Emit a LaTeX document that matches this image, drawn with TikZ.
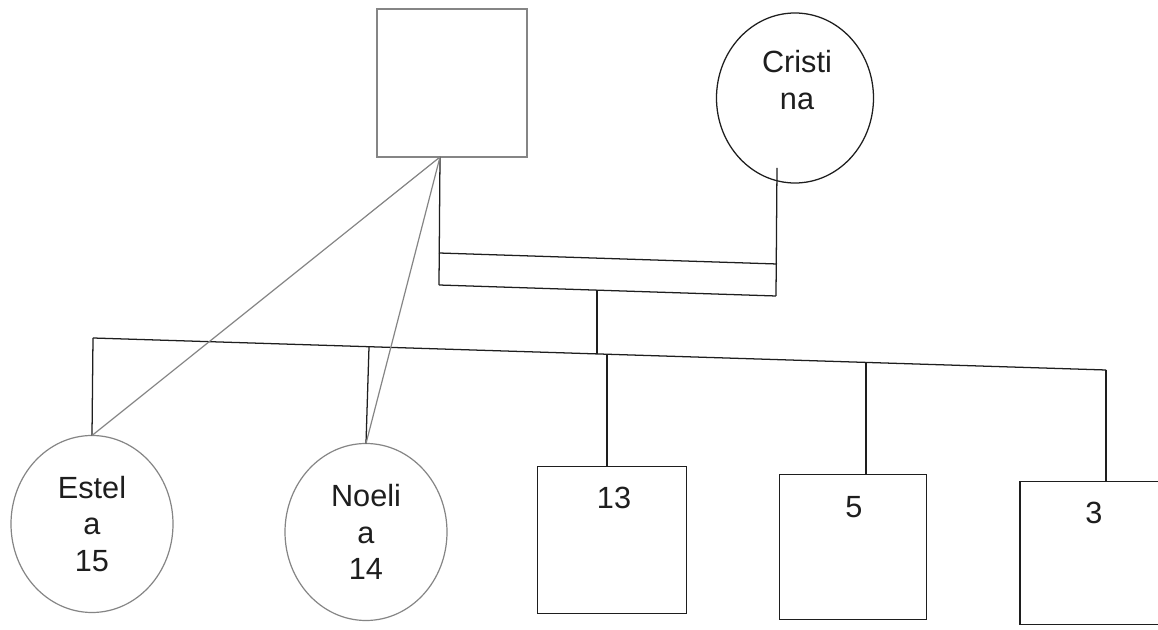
\documentclass[tikz,border=0pt]{standalone}
\usepackage{fontspec}
\setmainfont{Liberation Sans}
\usetikzlibrary{shapes.geometric}
\definecolor{inkgray}{HTML}{858585}
\definecolor{inkblack}{HTML}{1E1E1E}
\tikzset{
  blk/.style={draw=inkblack, line width=0.95pt},
  gry/.style={draw=inkgray, line width=0.9pt},
  txt/.style={font=\fontsize{23}{27.5}\selectfont, align=center, inner sep=0pt, text=inkblack},
  sqbox/.style={rectangle, inner sep=0pt, outer sep=0pt},
  ellbox/.style={ellipse, inner sep=0pt, outer sep=0pt},
}
\begin{document}
\begin{tikzpicture}[x=0.75pt, y=-0.75pt]
\useasboundingbox (0,0) rectangle (1158,630);
\clip (0,0) rectangle (1158,630);
\fill[white] (0,0) rectangle (1158,630);

% parents
\node[sqbox, gry, minimum width=112.5pt, minimum height=111pt] (father) at (452,83) {};
\node[ellbox, blk, minimum width=117.75pt, minimum height=127.5pt] (cristina) at (795,98) {};
\node[txt] (cristinaT) at (797,80) {Cristi\\na};

% children
\node[ellbox, gry, minimum width=121.5pt, minimum height=132.75pt, txt] (estela) at (92,524) {Estel\\a\\15};
\node[ellbox, gry, minimum width=121.5pt, minimum height=132.75pt, txt] (noeli) at (366,532) {Noeli\\a\\14};
\node[sqbox, blk, minimum width=111.75pt, minimum height=110.25pt] (b13) at (612,540) {};
\node[sqbox, blk, minimum width=110.25pt, minimum height=108.75pt] (b5) at (853,547) {};
\node[sqbox, blk, minimum width=112.5pt, minimum height=107.25pt] (b3) at (1095,553) {};
\node[txt] (t13) at (614,498) {13};
\node[txt] (t5) at (854,507) {5};
\node[txt] (t3) at (1094,513) {3};

% junction coordinates
\coordinate (fb) at (440,157);
\coordinate (cb) at (777,168);
\coordinate (m1) at (439,253);
\coordinate (m2) at (777,264);
\coordinate (m3) at (439,285);
\coordinate (m4) at (776,296);
\coordinate (d1) at (597,290);
\coordinate (d2) at (597,354);
\coordinate (s0) at (93,338);
\coordinate (sN) at (369,347);
\coordinate (s13) at (607,355);
\coordinate (s5) at (866,363);
\coordinate (s3) at (1106,370);

% marriage
\draw[blk] (fb) -- (m3);
\draw[blk] (cb) -- (m4);
\draw[blk] (m1) -- (m2);
\draw[blk] (m3) -- (m4);
\draw[blk] (d1) -- (d2);

% sibship line
\draw[blk] (s0) -- (s3);
\draw[blk] (s0) -- (estela.north);
\draw[blk] (sN) -- (noeli.north);
\draw[blk] (s13) -- (s13 |- b13.north);
\draw[blk] (s5) -- (s5 |- b5.north);
\draw[blk] (s3) -- (s3 |- b3.north);

% father to daughters
\draw[gry] (fb) -- (estela.north);
\draw[gry] (fb) -- (noeli.north);
\end{tikzpicture}
\end{document}
